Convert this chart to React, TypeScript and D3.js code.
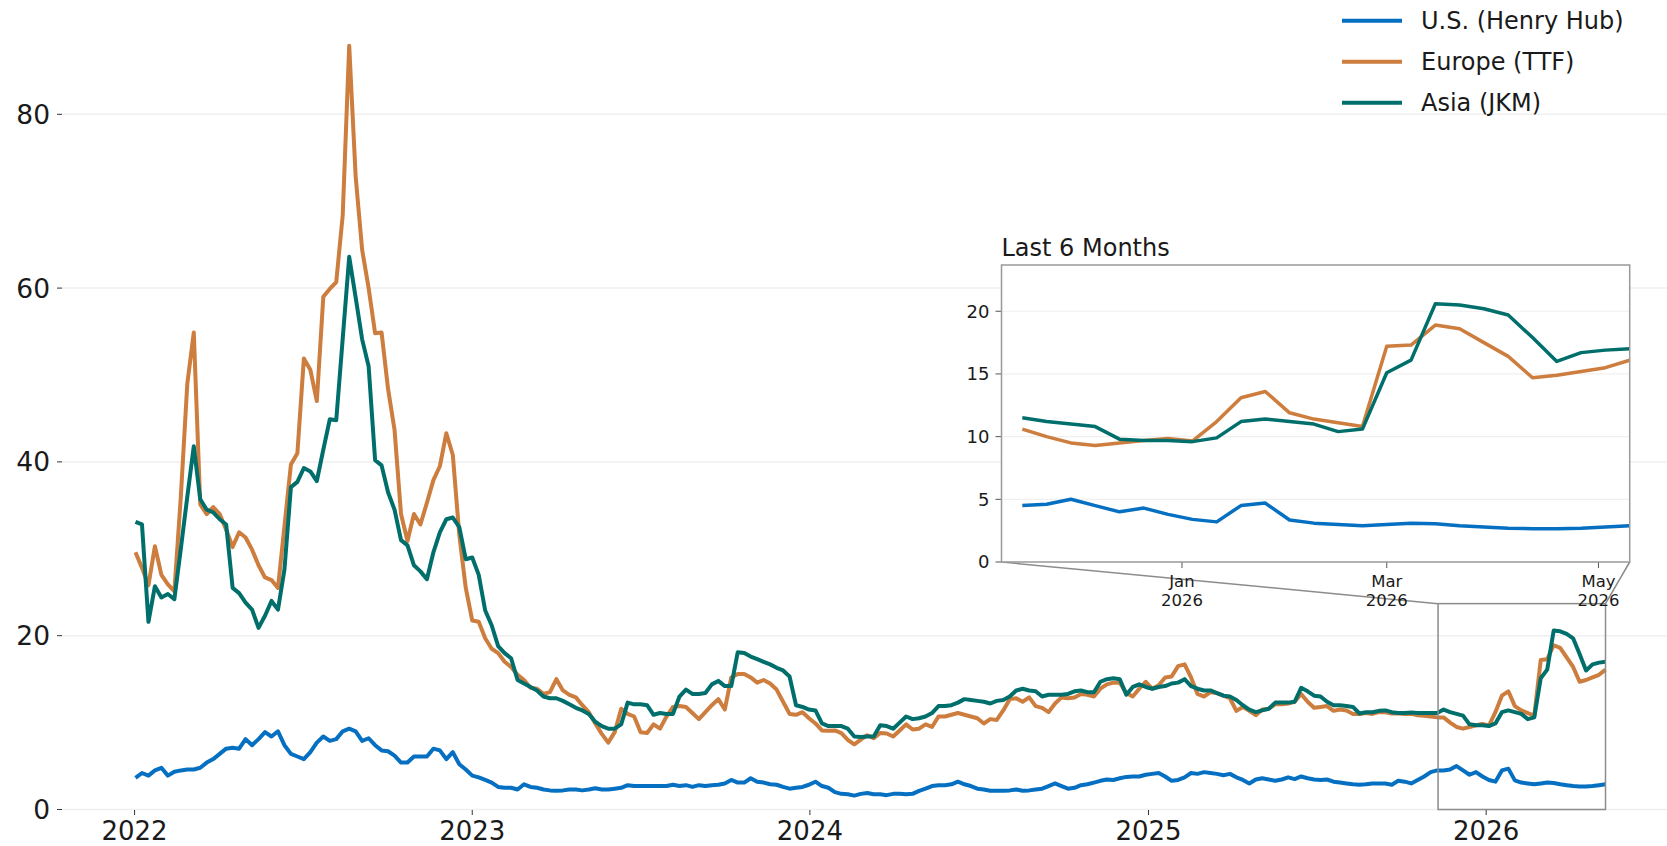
import React from "react";
import * as d3 from "d3";

// Weekly observations (Sundays) starting 2022-01-02, USD/MMBtu
const START_DATE = Date.UTC(2022, 0, 2);

const US_HENRY_HUB = [
  3.65, 4.2, 3.9, 4.5, 4.8, 3.9, 4.35, 4.5, 4.6, 4.6,
  4.8, 5.4, 5.8, 6.4, 7.0, 7.1, 7.0, 8.1, 7.4, 8.1,
  8.9, 8.4, 9.0, 7.4, 6.4, 6.1, 5.8, 6.6, 7.7, 8.4,
  7.9, 8.1, 9.0, 9.3, 9.0, 7.9, 8.2, 7.4, 6.8, 6.7,
  6.2, 5.4, 5.4, 6.1, 6.1, 6.1, 7.0, 6.8, 5.8, 6.6,
  5.2, 4.6, 3.9, 3.7, 3.4, 3.1, 2.6, 2.5, 2.5, 2.3,
  2.9, 2.6, 2.5, 2.3, 2.2, 2.15, 2.2, 2.3, 2.3, 2.2,
  2.3, 2.45, 2.3, 2.3, 2.4, 2.5, 2.8, 2.7, 2.7, 2.7,
  2.7, 2.7, 2.7, 2.85, 2.7, 2.8, 2.6, 2.8, 2.7, 2.8,
  2.85, 3.0, 3.4, 3.1, 3.1, 3.6, 3.2, 3.1, 2.9, 2.85,
  2.6, 2.4, 2.5, 2.6, 2.85, 3.2, 2.7, 2.5, 2.0, 1.8,
  1.75, 1.6, 1.8, 1.9, 1.75, 1.75, 1.65, 1.8, 1.8, 1.75,
  1.8, 2.15, 2.4, 2.7, 2.8, 2.8, 2.9, 3.2, 2.9, 2.7,
  2.4, 2.3, 2.15, 2.15, 2.15, 2.2, 2.3, 2.15, 2.2, 2.3,
  2.4, 2.7, 3.0, 2.7, 2.4, 2.5, 2.8, 2.9, 3.1, 3.3,
  3.45, 3.4, 3.6, 3.75, 3.8, 3.8, 4.0, 4.1, 4.2, 3.8,
  3.3, 3.4, 3.7, 4.2, 4.1, 4.3, 4.2, 4.1, 3.95, 4.1,
  3.7, 3.4, 3.0, 3.45, 3.6, 3.45, 3.3, 3.45, 3.7, 3.5,
  3.8, 3.6, 3.45, 3.4, 3.45, 3.2, 3.1, 3.0, 2.9, 2.85,
  2.9, 3.0, 3.0, 3.0, 2.85, 3.3, 3.2, 3.0, 3.4, 3.8,
  4.3, 4.5, 4.5, 4.6, 5.0, 4.5, 4.0, 4.3, 3.8, 3.4,
  3.2, 4.5, 4.7, 3.35, 3.1, 3.0, 2.9, 3.0, 3.1, 3.05,
  2.9, 2.8, 2.7, 2.65, 2.65, 2.7, 2.8, 2.9,
];

const EUROPE_TTF = [
  29.6, 27.8, 25.8, 30.3, 27.0, 25.9, 25.1, 36.0, 49.0, 54.9,
  35.1, 34.0, 34.8, 34.0, 32.2, 30.2, 31.9, 31.3, 29.9, 28.1,
  26.7, 26.4, 25.5, 32.6, 39.7, 41.0, 51.9, 50.6, 47.0, 59.0,
  59.9, 60.7, 68.4, 87.9, 72.8, 64.4, 60.0, 54.8, 54.9, 48.4,
  43.7, 34.0, 30.9, 34.0, 32.8, 35.3, 37.9, 39.5, 43.3, 40.8,
  31.6, 25.5, 21.75, 21.6, 19.7, 18.5, 18.0, 17.0, 16.4, 15.5,
  14.9, 14.0, 13.9, 13.3, 13.5, 15.0, 13.7, 13.2, 12.9, 12.0,
  11.2, 9.9, 8.7, 7.7, 8.9, 11.6, 11.0, 10.7, 8.9, 8.8,
  9.8, 9.3, 10.7, 11.8, 11.9, 11.8, 11.1, 10.4, 11.2, 12.0,
  12.7, 11.5, 15.2, 15.6, 15.6, 15.2, 14.6, 14.9, 14.5, 13.8,
  12.4, 11.0, 10.9, 11.2, 10.5, 9.9, 9.1, 9.05, 9.1, 8.8,
  8.0, 7.5, 8.05, 8.55, 8.2, 8.8, 8.75, 8.4, 9.1, 9.8,
  9.2, 9.3, 9.8, 9.5, 10.7, 10.7, 10.9, 11.1, 10.9, 10.7,
  10.5, 9.9, 10.4, 10.3, 11.4, 12.7, 12.8, 12.4, 12.9, 11.9,
  11.7, 11.2, 12.2, 12.9, 12.8, 12.9, 13.3, 13.2, 13.0, 13.9,
  14.4, 14.6, 14.6, 13.4, 13.0, 13.9, 14.7, 13.9, 14.3, 15.2,
  15.3, 16.5, 16.7, 15.2, 13.3, 13.0, 13.5, 13.4, 13.1, 12.8,
  11.35, 11.8, 11.35, 10.85, 11.5, 11.6, 12.1, 12.1, 12.2, 12.4,
  13.3, 12.4, 11.7, 11.8, 11.9, 11.35, 11.5, 11.4, 11.0, 11.0,
  11.1, 11.0, 11.2, 11.2, 11.05, 11.05, 11.0, 11.0, 10.85, 10.8,
  10.7, 10.6, 10.6, 10.0, 9.5, 9.3, 9.5, 9.7, 9.85, 9.65,
  11.2, 13.1, 13.6, 11.9, 11.4, 11.1, 10.8, 17.2, 17.3, 18.9,
  18.6, 17.5, 16.4, 14.7, 14.9, 15.2, 15.5, 16.1,
];

const ASIA_JKM = [
  33.1, 32.8, 21.6, 25.7, 24.4, 24.8, 24.2, 30.0, 36.0, 41.8,
  35.7, 34.5, 34.2, 33.4, 32.8, 25.5, 24.9, 23.8, 23.0, 20.9,
  22.3, 24.0, 23.0, 27.6, 37.1, 37.7, 39.3, 38.9, 37.8, 41.4,
  44.9, 44.8, 54.2, 63.6, 58.9, 54.1, 51.0, 40.2, 39.6, 36.5,
  34.5, 31.0, 30.4, 28.1, 27.4, 26.5, 29.6, 31.9, 33.4, 33.6,
  32.5, 28.8, 29.0, 27.0, 22.9, 21.2, 18.8, 18.0, 17.4, 14.9,
  14.5, 14.1, 13.7, 13.0, 12.8, 12.8, 12.5, 12.1, 11.7, 11.4,
  11.0, 10.1, 9.6, 9.3, 9.3, 9.8, 12.3, 12.1, 12.1, 12.0,
  10.9, 11.1, 11.0, 11.0, 13.0, 13.8, 13.3, 13.3, 13.4, 14.4,
  14.8, 14.2, 14.2, 18.1, 18.0, 17.6, 17.3, 17.0, 16.7, 16.3,
  16.0, 15.3, 12.0, 11.8, 11.5, 11.4, 9.9, 9.6, 9.6, 9.6,
  9.3, 8.4, 8.35, 8.4, 8.4, 9.7, 9.6, 9.3, 10.0, 10.7,
  10.4, 10.5, 10.7, 11.1, 11.9, 11.9, 12.0, 12.3, 12.7, 12.6,
  12.5, 12.4, 12.2, 12.5, 12.6, 13.0, 13.7, 13.9, 13.7, 13.6,
  13.0, 13.2, 13.2, 13.2, 13.3, 13.6, 13.7, 13.5, 13.5, 14.7,
  15.0, 15.1, 15.0, 13.2, 14.1, 14.4, 14.1, 13.9, 14.1, 14.2,
  14.5, 14.6, 15.0, 14.2, 13.9, 13.7, 13.7, 13.4, 13.1, 13.0,
  12.6, 12.0, 11.5, 11.2, 11.4, 11.6, 12.3, 12.3, 12.3, 12.4,
  14.0, 13.6, 13.1, 13.0, 12.4, 12.0, 12.0, 11.9, 11.8, 11.05,
  11.2, 11.2, 11.35, 11.4, 11.2, 11.1, 11.1, 11.15, 11.1, 11.1,
  11.1, 11.1, 11.5, 11.2, 11.0, 10.8, 9.8, 9.7, 9.7, 9.6,
  9.9, 11.2, 11.4, 11.2, 11.0, 10.4, 10.6, 15.1, 16.1, 20.6,
  20.5, 20.2, 19.7, 17.9, 16.0, 16.7, 16.9, 17.0,
];

const SERIES_NAMES = ["U.S. (Henry Hub)", "Europe (TTF)", "Asia (JKM)"];
const SERIES_COLORS = ["#0570c1", "#cd7d3d", "#006f6c"];
const MAIN_Y_TICKS = [0, 20, 40, 60, 80];
const MAIN_X_TICK_YEARS = [2022, 2023, 2024, 2025, 2026];
const INSET_Y_TICKS = [0, 5, 10, 15, 20];
const INSET_TITLE = "Last 6 Months";

const FONT = "DejaVu Sans, Verdana, sans-serif";

type Pt = { date: Date; value: number };

export default function App() {
  const W = 1667;
  const H = 846;
  const allSeries = [US_HENRY_HUB, EUROPE_TTF, ASIA_JKM];
  const dates = US_HENRY_HUB.map((_, i) => d3.utcDay.offset(new Date(START_DATE), 7 * i));
  const data: Pt[][] = allSeries.map((s) => s.map((v, i) => ({ date: dates[i], value: v })));

  const first = dates[0];
  const last = dates[dates.length - 1];
  const span = last.getTime() - first.getTime();

  // main axes
  const mainLeft = 62;
  const x = d3
    .scaleUtc()
    .domain([new Date(first.getTime() - span * 0.05), new Date(last.getTime() + span * 0.05)])
    .range([mainLeft, 1679]);
  const y = d3.scaleLinear().domain([0, 90]).range([809.5, 809.5 - 90 * 8.69]);

  const line = d3
    .line<Pt>()
    .x((d) => x(d.date))
    .y((d) => y(d.value));

  // inset axes
  const insetStart = d3.utcMonth.offset(last, -6);
  const allInsetVals = data.flatMap((s) => s.filter((d) => d.date >= insetStart).map((d) => d.value));
  const insetMax = (d3.max(allInsetVals) as number) * 1.15;
  const IL = 1001.5, IR = 1629.7, IT = 265, IB = 562;
  const xi = d3.scaleUtc().domain([insetStart, last]).range([IL, IR]);
  const yi = d3.scaleLinear().domain([0, insetMax]).range([IB, IT]);
  const lineI = d3
    .line<Pt>()
    .x((d) => xi(d.date))
    .y((d) => yi(d.value));
  const insetTicks = [Date.UTC(2026, 0, 1), Date.UTC(2026, 2, 1), Date.UTC(2026, 4, 1)].map((t) => new Date(t));
  const monthFmt = d3.utcFormat("%b");
  const yearFmt = d3.utcFormat("%Y");

  // zoom rectangle in main axes
  const rx0 = x(insetStart), rx1 = x(last);
  const ry0 = y(insetMax), ry1 = y(0);

  const legendY = [20.7, 61.7, 102.7];

  return (
    <svg
      width={W}
      height={H}
      style={{ position: "absolute", left: 0, top: 0, background: "#fff", fontFamily: FONT }}
    >
      <rect x={0} y={0} width={W} height={H} fill="#fff" />
      {/* main grid */}
      {MAIN_Y_TICKS.map((t) => (
        <g key={"gy" + t}>
          <line x1={mainLeft} x2={W} y1={y(t)} y2={y(t)} stroke="#efefef" strokeWidth={1.5} />
          <line x1={mainLeft - 5} x2={mainLeft} y1={y(t)} y2={y(t)} stroke="#333" strokeWidth={1} />
          <text x={mainLeft - 12} y={y(t)} dy="0.36em" textAnchor="end" fontSize={26.5} fill="#1a1a1a">
            {t}
          </text>
        </g>
      ))}
      {MAIN_X_TICK_YEARS.map((yr) => {
        const xx = x(new Date(Date.UTC(yr, 0, 1)));
        return (
          <g key={"gx" + yr}>
            <line x1={xx} x2={xx} y1={810} y2={815} stroke="#333" strokeWidth={1} />
            <text x={xx} y={839.5} textAnchor="middle" fontSize={26} fill="#1a1a1a">
              {yr}
            </text>
          </g>
        );
      })}

      {/* main lines */}
      {data.map((s, k) => (
        <path key={"m" + k} d={line(s) || ""} fill="none" stroke={SERIES_COLORS[k]} strokeWidth={4} strokeLinejoin="round" />
      ))}

      {/* zoom indicator */}
      <rect x={rx0} y={ry0} width={rx1 - rx0} height={ry1 - ry0} fill="none" stroke="#8c8c8c" strokeWidth={1.5} />
      <line x1={IL} y1={IB} x2={rx0} y2={ry0} stroke="#8c8c8c" strokeWidth={1.5} />
      <line x1={IR} y1={IB} x2={rx1} y2={ry0} stroke="#8c8c8c" strokeWidth={1.5} />

      {/* inset */}
      <rect x={IL} y={IT} width={IR - IL} height={IB - IT} fill="#fff" />
      <defs>
        <clipPath id="insetClip">
          <rect x={IL} y={IT} width={IR - IL} height={IB - IT} />
        </clipPath>
      </defs>
      {INSET_Y_TICKS.map((t) => (
        <g key={"iy" + t}>
          {t > 0 && <line x1={IL} x2={IR} y1={yi(t)} y2={yi(t)} stroke="#f0f0f0" strokeWidth={1.2} />}
          <line x1={IL - 6} x2={IL} y1={yi(t)} y2={yi(t)} stroke="#555" strokeWidth={1} />
          <text x={IL - 12} y={yi(t)} dy="0.36em" textAnchor="end" fontSize={18} fill="#1a1a1a">
            {t}
          </text>
        </g>
      ))}
      {insetTicks.map((d, k) => (
        <g key={"ix" + k}>
          <line x1={xi(d)} x2={xi(d)} y1={IB} y2={IB + 6} stroke="#555" strokeWidth={1} />
          <text x={xi(d)} y={587} textAnchor="middle" fontSize={16.5} fill="#1a1a1a">
            {monthFmt(d)}
          </text>
          <text x={xi(d)} y={606} textAnchor="middle" fontSize={16.5} fill="#1a1a1a">
            {yearFmt(d)}
          </text>
        </g>
      ))}
      <g clipPath="url(#insetClip)">
        {data.map((s, k) => (
          <path
            key={"i" + k}
            d={lineI(s.filter((d) => d.date >= insetStart)) || ""}
            fill="none"
            stroke={SERIES_COLORS[k]}
            strokeWidth={3.5}
            strokeLinejoin="round"
          />
        ))}
      </g>
      <rect x={IL} y={IT} width={IR - IL} height={IB - IT} fill="none" stroke="#999" strokeWidth={1.5} />
      <text x={IL} y={256} fontSize={24} fill="#1a1a1a">
        {INSET_TITLE}
      </text>

      {/* legend */}
      {SERIES_NAMES.map((n, k) => (
        <g key={"lg" + k}>
          <line x1={1342} x2={1402} y1={legendY[k]} y2={legendY[k]} stroke={SERIES_COLORS[k]} strokeWidth={4} />
          <text x={1421} y={legendY[k]} dy="0.36em" fontSize={24} fill="#1a1a1a">
            {n}
          </text>
        </g>
      ))}
    </svg>
  );
}
